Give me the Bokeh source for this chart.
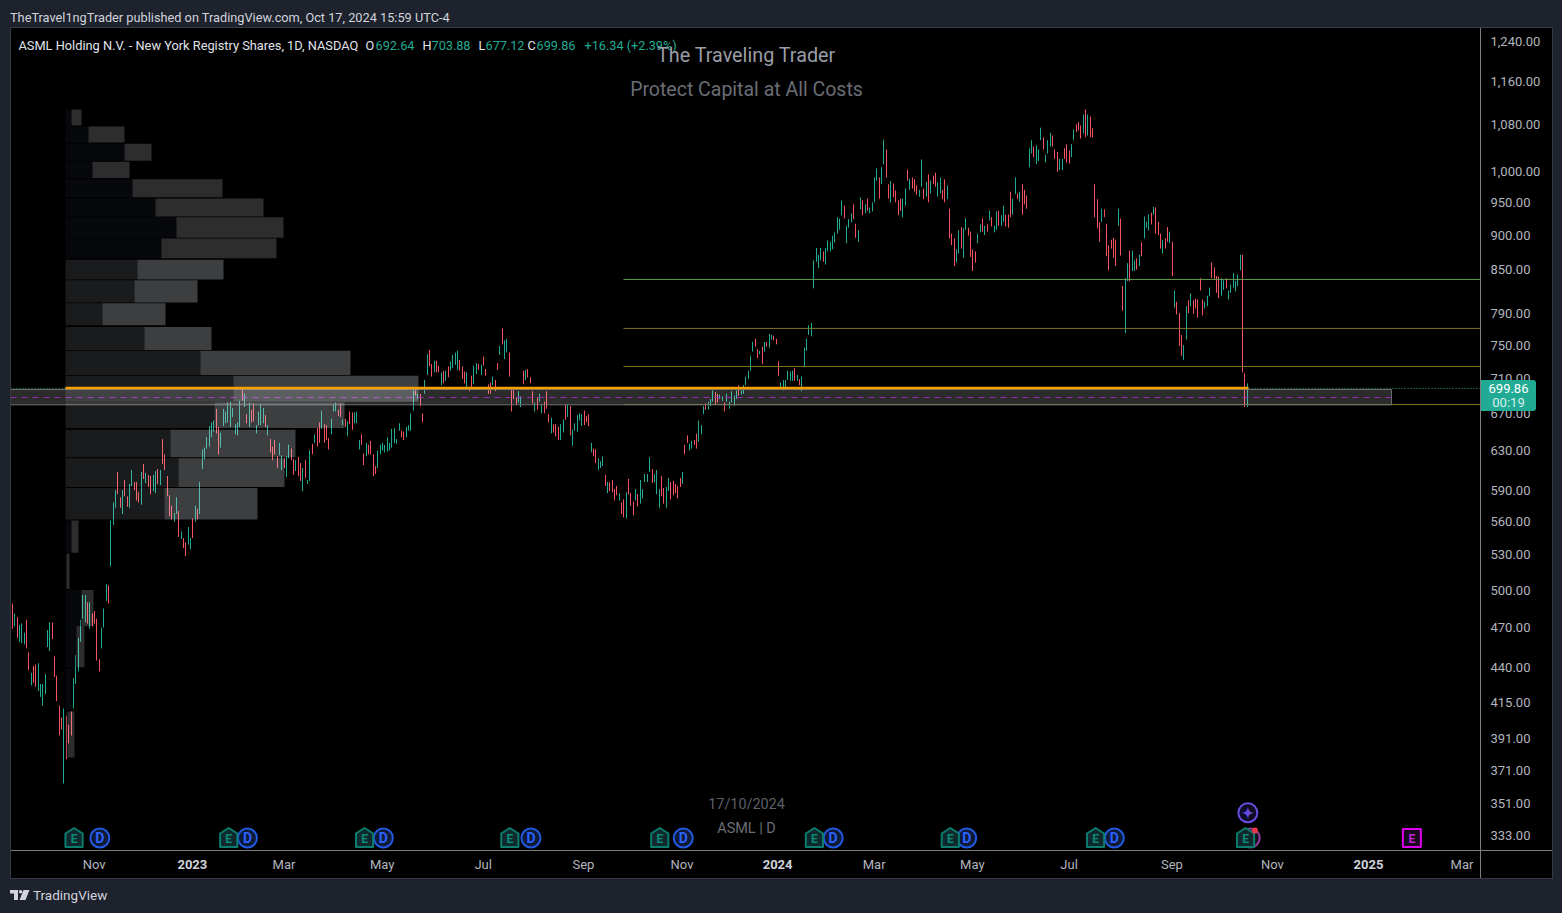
import math
from bokeh.embed import file_html
from bokeh.resources import INLINE
from bokeh.plotting import figure
from bokeh.layouts import column
from bokeh.models import (ColumnDataSource, Label, Range1d, FixedTicker, LinearAxis, Div)
from bokeh.core.properties import value

high = [
510,489,481,478,472,473,466,476,451,436,441,442,443,428,428,435,468,474,474,448,
434,413,405,411,406,400,409,432,449,462,476,496,496,490,490,481,483,477,446,470,
485,505,504,561,578,590,608,583,590,600,584,596,610,598,598,588,608,616,607,605,
604,605,609,611,610,642,626,604,585,575,568,583,570,551,545,541,555,545,563,575,
572,598,631,633,644,656,660,662,675,655,649,675,672,682,683,676,658,660,684,697,
692,669,682,674,681,657,672,680,676,668,657,642,634,641,624,638,625,622,624,636,
632,621,620,623,617,612,620,600,630,637,647,654,660,673,658,657,643,664,680,682,
674,681,663,664,661,672,671,671,672,641,647,627,638,636,640,626,614,630,636,638,
636,644,638,653,654,642,659,651,650,655,657,670,696,696,692,692,670,708,739,744,
727,731,731,725,717,719,719,724,730,738,741,743,732,724,718,717,700,713,725,728,
727,726,736,721,703,705,712,708,728,749,771,756,758,741,697,697,688,695,689,719,
720,721,711,695,682,688,692,680,683,695,669,665,658,658,655,658,663,680,680,678,
652,659,668,670,669,673,667,669,638,632,631,622,619,624,605,598,598,600,591,594,
587,578,581,588,601,587,579,591,586,600,591,606,606,623,611,606,610,591,604,592,
593,602,598,599,596,594,602,608,636,646,637,640,641,648,662,657,678,681,683,686,
696,694,692,691,689,682,692,683,695,690,696,702,696,702,712,719,737,754,758,745,
743,748,754,754,764,763,762,758,730,705,708,708,719,718,719,722,714,709,712,747,
758,775,778,863,881,871,881,876,881,892,890,899,904,927,925,953,945,914,924,933,
947,917,907,958,953,947,956,942,950,990,1005,990,1007,1054,1037,979,984,980,969,953,
956,956,972,1003,988,990,987,977,970,1020,972,983,995,985,993,998,982,990,970,987,
977,940,902,895,879,907,912,910,925,911,905,879,876,902,916,925,914,916,937,927,
914,936,937,930,945,931,931,967,956,990,964,967,979,970,961,1039,1053,1042,1044,1037,
1075,1058,1028,1053,1066,1061,1037,1033,1021,1021,1039,1046,1035,1046,1072,1081,1085,1079,1099,1108,
1099,1095,1074,979,955,919,940,939,917,885,893,896,893,940,925,827,838,859,877,877,
863,866,871,889,928,920,931,934,943,942,920,902,893,895,912,905,890,821,806,791,
763,750,800,808,817,808,810,809,838,809,806,814,825,860,853,841,840,838,835,838,
821,829,845,834,843,871,871,716,704]
low = [
499,469,471,462,459,458,457,454,438,427,429,426,423,419,413,421,455,452,461,433,
416,393,397,363,378,388,393,411,428,437,459,477,474,473,469,471,473,445,437,454,
470,491,489,520,557,573,586,573,567,584,574,573,594,590,580,578,576,601,597,593,
586,589,587,596,595,616,610,584,565,562,560,567,546,544,536,529,539,535,545,560,
562,567,611,621,632,634,644,650,648,626,633,656,659,660,655,666,647,646,655,684,
677,659,655,660,661,648,657,657,659,655,646,628,620,626,612,625,610,612,603,622,
620,605,609,604,599,589,602,596,599,626,638,634,638,653,638,641,631,647,672,672,
667,666,657,655,645,658,652,659,659,631,636,615,624,626,626,604,606,612,626,630,
628,629,630,633,638,637,651,644,641,644,651,651,673,690,686,678,660,692,714,724,
712,717,717,717,702,704,707,711,719,722,726,720,719,709,704,699,695,699,703,715,
720,714,725,713,692,692,702,695,720,738,751,733,741,712,672,686,680,682,677,703,
708,711,704,681,672,674,683,670,670,675,660,648,649,645,641,641,649,663,666,646,
635,651,650,662,656,657,660,656,628,624,617,610,612,614,594,587,589,588,580,585,
580,567,564,563,586,575,566,580,574,577,582,598,598,608,597,598,586,573,584,577,
573,589,581,585,587,582,593,596,626,638,630,632,636,632,639,647,669,674,674,678,
683,680,682,686,684,672,683,675,682,678,686,690,691,692,702,709,719,742,748,734,
739,727,742,748,747,757,756,751,713,697,696,699,708,707,707,707,707,702,695,724,
743,763,761,824,861,852,863,861,857,876,876,879,889,902,908,930,925,888,911,919,
924,896,890,939,930,933,937,933,936,950,985,956,979,1012,990,956,950,958,950,930,
937,927,945,985,970,972,967,962,959,975,955,959,950,964,979,975,959,964,955,950,
955,895,885,855,860,873,880,867,908,899,868,848,860,888,904,905,900,905,922,913,
904,908,914,914,920,913,911,927,931,963,955,951,931,947,940,1007,1030,1024,1012,1017,
1053,1037,1015,1030,1042,1042,1021,999,1002,1002,1021,1015,1013,1024,1053,1067,1070,1056,1065,1058,
1061,1058,1058,927,910,890,920,927,869,849,880,867,855,914,870,794,765,834,834,848,
848,850,855,869,895,911,907,916,931,902,900,880,873,880,890,888,841,798,789,749,
737,732,757,791,800,790,797,785,821,788,797,800,813,838,836,818,811,814,822,824,
809,818,825,820,827,849,717,677,677]
direction = (
"rrgrgggrrg" "rrggggggrr" "rrrgrrrggg" "gggrgrrrrg" "ggrgggrrgr" "rggrrrgrgr" "rggrgrrrrr" "ggrgrrggrg"
"rgggggggrr" "gggggggggr" "grgrrggggr" "grrrrggrgg" "rrgrrgrggr" "grrgrrrggg" "rrgrgrrggg" "rrgrrrrggg"
"gggggggrrg" "gggrgrrggr" "rgrrgrgrgg" "ggrrrgrrgg" "rgrrrrgrrg" "rggrrrrggr" "grrrgrggrr" "rgrrrggrgr"
"gggggrrrgr" "rgggrgrrrr" "grrgrrrgrg" "ggggrgggrr" "ggrrrrrgrr" "ggrrgggrgg" "grrggrgggg" "grggggggrr"
"grgrggrrrg" "gggggrgrgg" "gggggggrgg" "ggggggrggg" "rrggrgrggg" "grggrrgrrr" "rggrgrrrgg" "rgrgrrggrr"
"grrrggrggr" "rrrggrgrgr" "ggrggrrrgg" "rgrrrggrgg" "grgggrrrgg" "rrrggrrrgr" "grrrrrgrrr" "rrrgrrggrg"
"grgrgggrgr" "rrgrrgrgrr" "rggrgrrrrr" "gggrrrrggr" "ggggggrrg"
)

vp_top = [1108,1077,1047,1016,987,956,927,895,864,835,804,773,743,713,682,652,622,592,561,531,500,471,439,409]
vp_bot = [1079,1049,1018,989,958,928,896,866,836,805,775,744,714,683,654,623,593,562,532,501,471,440,410,379]
vp_dark = [6,23,59,27,67,90,111,96,72,69,37,79,135,168,149,105,113,99,6,1,16,11,6,2]
vp_total = [16,59,86,64,157,198,218,211,158,132,100,146,285,353,279,230,219,192,13,4,28,19,6,9]
vp_value_area = [0,0,0,0,0,0,0,0,1,1,1,1,1,1,1,1,1,1,0,0,0,0,0,0]

level_prices = [836.2, 771.1, 724, 679.8]
level_colors = ["#5f9a50", "#7d7420", "#7d7420", "#7d7420"]
zone_top, zone_bot, zone_mid, zone_line, last_line = 696.9, 679.5, 687.8, 698.6, 698.1

price_ticks = [1240,1160,1080,1000,950,900,850,790,750,710,670,630,590,560,530,500,470,440,415,391,371,351,333]
month_idx = [35.6,116.6,158.5,201.6,244.4,286.5,368.5,410.4,451.7,495.6,538.5,619.4]
month_lab = ["Nov","Mar","May","Jul","Sep","Nov","Mar","May","Jul","Sep","Nov","Mar"]
year_idx = [77.5,327.3,579.5]
year_lab = ["2023","2024","2025"]

earn_idx = [27,93,151,213,277,343,401,463,527]
div_idx = [38,101,159,222,287,351,408,471]
next_earn_idx = 598
news_idx = 528
event_price = 331.7
news_price = 345.8

n = min(len(high), len(low), len(direction))
GREEN, RED = "#22ab94", "#f7525f"
BG, FONT = "#1e222d", "Roboto"
X0, X1 = -0.13, 627.3
PX_X = 1470 / (X1 - X0)

def snapped(i):
    # a bar sits on a whole screen column, as in the original
    return X0 + (math.floor(10.1 + i * 2.3428) - 10) / PX_X

# ---------- bars ----------
src = ColumnDataSource(dict(
    x=[snapped(i) for i in range(n)], h=high[:n], l=low[:n],
    c=[GREEN if d == "g" else RED for d in direction[:n]]))

main = figure(width=1542, height=851, output_backend="svg", toolbar_location=None,
              x_range=Range1d(X0, X1), y_range=Range1d(324.9, 1269),
              y_axis_type="log", y_axis_location="right",
              min_border_left=0, min_border_top=0, min_border_right=72, min_border_bottom=28,
              background_fill_color="#000000", border_fill_color="#000000",
              outline_line_color=None, margin=(27, 0, 35, 10))
main.grid.visible = False
main.extra_x_ranges = {"vol": Range1d(-55, 1415)}

main.segment("x", "h", "x", "l", source=src, line_color="c", line_width=1)

# ---------- levels + zone ----------
main.segment(x0=[261.5] * 4, y0=level_prices, x1=[X1] * 4, y1=level_prices,
             line_color=level_colors, line_width=1)
main.quad(left=[X0], right=[589.3], top=[zone_top], bottom=[zone_bot],
          fill_color="#ffffff", fill_alpha=0.17, line_color="#707070", line_width=1)
main.segment(x0=[X0], y0=[zone_mid], x1=[589.3], y1=[zone_mid],
             line_color="#a22bc0", line_alpha=0.95, line_width=1, line_dash="6 5")

# ---------- volume profile ----------
for i in range(len(vp_top)):
    va = vp_value_area[i]
    main.quad(left=[0], right=[vp_dark[i]], top=[vp_top[i]], bottom=[vp_bot[i]], x_range_name="vol",
              fill_color="#f0f4ff" if va else "#141c28", fill_alpha=0.11 if va else 0.28, line_color=None)
    main.quad(left=[vp_dark[i]], right=[vp_total[i]], top=[vp_top[i]], bottom=[vp_bot[i]], x_range_name="vol",
              fill_color="#e6e8f0" if va else "#ffffff", fill_alpha=0.265 if va else 0.175, line_color=None)

main.segment(x0=[23.3], y0=[zone_line], x1=[528.3], y1=[zone_line], line_color="#f59f00", line_width=2.6)
main.segment(x0=[X0, 528.3], y0=[last_line] * 2, x1=[23.3, X1], y1=[last_line] * 2,
             line_color=GREEN, line_width=1, line_dash="1 2")

# ---------- event icons ----------
def up(p, dy):
    return p * math.exp(dy / 604)

def text_at(x, y, t, color, size):
    main.text(x=[x], y=[y], text=[t], text_color=color, text_align="center", text_baseline="middle",
              text_font=value(FONT), text_font_size=f"{size}px", text_font_style="bold")

def circle_icon(x, y, t, fill, line, tcolor, size=13):
    main.scatter([x], [y], size=19, marker="circle", fill_color=fill, line_color=line, line_width=2)
    if t:
        text_at(x, y, t, tcolor, size)

def house(x):
    w = 8.6 / PX_X
    xs = [x - w, x, x + w, x + w, x - w]
    ys = [up(event_price, 4.5), up(event_price, 10), up(event_price, 4.5), up(event_price, -9), up(event_price, -9)]
    main.patch(xs, ys, fill_color="#10292c", line_color="#0b7d6e", line_width=2, line_join="round")
    text_at(x, up(event_price, -1), "E", "#0b8a78", 12)

main.scatter([news_idx + 1], [event_price], size=19, marker="circle", fill_color="#14101c",
             line_color="#8e3f9e", line_width=2)
for d in div_idx:
    circle_icon(d, event_price, "D", "#0f1a36", "#2159e0", "#2962ff", 14)
for e in earn_idx:
    house(e)
main.scatter([next_earn_idx], [event_price], size=18, marker="square", fill_color="#170a1e",
             line_color="#e000f0", line_width=2)
text_at(next_earn_idx, up(event_price, -1), "E", "#c820d8", 12)
circle_icon(news_idx, news_price, "✦", "#0f0d26", "#6a4be0", "#6a4be0", 14)
main.scatter([news_idx + 3], [up(event_price, 7.5)], size=6, marker="circle", fill_color="#f23645", line_color=None)

# ---------- axes ----------
ya = main.yaxis[0]
ya.ticker = FixedTicker(ticks=price_ticks)
ya.major_label_overrides = {t: f"{t:,.2f}" for t in price_ticks}
xa = main.xaxis[0]
xa.ticker = FixedTicker(ticks=month_idx)
xa.major_label_overrides = dict(zip(month_idx, month_lab))
yr = LinearAxis(ticker=FixedTicker(ticks=year_idx), major_label_overrides=dict(zip(year_idx, year_lab)))
main.add_layout(yr, "below")
for a in (xa, ya, yr):
    a.axis_line_color = "#7d7d7d"
    a.major_tick_line_color = None
    a.minor_tick_line_color = None
    a.major_tick_out = 0
    a.major_label_text_color = "#b2b5be"
    a.major_label_text_font = FONT
    a.major_label_text_font_size = "13px"
yr.axis_line_color = None
yr.major_label_text_color = "#d1d4dc"
yr.major_label_text_font_style = "bold"
yr.major_label_standoff = -15
ya.major_label_standoff = 10
xa.major_label_standoff = 6

def lab(x, y, t, color, size, align="left", style="normal"):
    main.add_layout(Label(x=x - 10, y=y - 27, x_units="canvas", y_units="canvas", text=t, text_color=color,
                          text_font=FONT, text_font_size=f"{size}px", text_align=align,
                          text_baseline="middle", text_font_style=style))

# ---------- legend and watermark ----------
lab(18, 44.5, "ASML Holding N.V. - New York Registry Shares, 1D, NASDAQ", "#e0e3eb", 12.8)
for x, t, c in [(365, "O", "#e0e3eb"), (375, "692.64", GREEN), (422, "H", "#e0e3eb"), (431, "703.88", GREEN),
                (478, "L", "#e0e3eb"), (485, "677.12", GREEN), (527, "C", "#e0e3eb"), (536, "699.86", GREEN),
                (584, "+16.34 (+2.39%)", GREEN)]:
    lab(x, 44.5, t, c, 12.7)
lab(746, 55, "The Traveling Trader", "#9a9da6", 19.8, "center")
lab(746, 89, "Protect Capital at All Costs", "#6a6d75", 19.5, "center")
lab(746, 804, "17/10/2024", "#5d6069", 14.4, "center")
lab(746, 828, "ASML | D", "#6a6d75", 14.4, "center")

# ---------- page furniture: strips, frame rules, last-price tag ----------
def box(x, y, w, h, html="", **css):
    st = {"position": "absolute", "left": f"{x}px", "top": f"{y}px"}
    st.update({k.replace("_", "-"): v for k, v in css.items()})
    return Div(text=html, width=w, height=h, margin=0, styles=st)

FR, AX = "#363a45", "#7d7d7d"
furniture = [
    box(10, 9, 700, 18, "TheTravel1ngTrader published on TradingView.com, Oct 17, 2024 15:59 UTC-4",
        color="#d1d4dc", font_family=FONT, font_size="12.76px", line_height="18px", white_space="nowrap"),
    box(10, 27, 1, 852, background=FR), box(10, 27, 1543, 1, background=FR),
    box(1552, 27, 1, 852, background=FR), box(10, 878, 1543, 1, background=FR),
    box(1480, 850, 1, 28, background=AX), box(1480, 850, 72, 1, background=AX),
    box(1481, 380, 55, 31, '699.86<br><span style="color:#d5f0ea">00:19</span>', background=GREEN, color="#ffffff",
        font_family=FONT, font_size="13px", line_height="14px", text_align="center", padding_top="2px",
        border_radius="0 3px 3px 0", box_sizing="border-box"),
    box(10, 885, 110, 20,
        '<svg width="20" height="12" style="position:absolute;left:0;top:5px">'
        '<path fill="#d1d4dc" d="M0 0h8v10H4V3.5H0zM13.5 0h6l-4 10h-6z"/><circle cx="10.6" cy="1.8" r="1.8" fill="#d1d4dc"/></svg>'
        '<span style="position:absolute;left:23px;top:0;line-height:20px">TradingView</span>',
        color="#d1d4dc", font_family=FONT, font_size="13.5px", white_space="nowrap"),
]

root = column(main, *furniture, spacing=0, width=1562, height=913, styles={"background": BG})

TEMPLATE = """<!DOCTYPE html>
<html lang="en"><head><meta charset="utf-8"><title>ASML</title>
{{ bokeh_css }}{{ bokeh_js }}
<style>html,body{margin:0;padding:0;background:#1e222d;overflow:hidden}</style>
</head><body>
{{ plot_div|indent(8) }}
{{ plot_script|indent(8) }}
</body></html>"""

open("out.html", "w").write(file_html(root, INLINE, template=TEMPLATE))
